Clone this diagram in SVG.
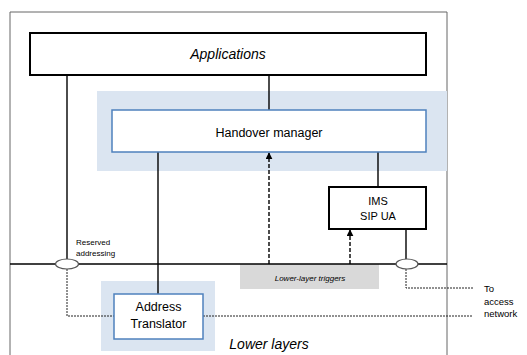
<svg xmlns="http://www.w3.org/2000/svg" width="527" height="355" viewBox="0 0 527 355">
<defs>
<style>
.t{font-family:"Liberation Sans",Arial,sans-serif;fill:#000}
.it{font-style:italic}
.solid{stroke:#000;stroke-width:1.4;fill:none}
.dash{stroke:#000;stroke-width:1.4;stroke-dasharray:4,2;fill:none}
.dot{stroke:#222;stroke-width:1;stroke-dasharray:2,1;fill:none}
.blk{fill:#fff;stroke:#000;stroke-width:2}
.blu{fill:#fff;stroke:#4f81bd;stroke-width:1.5}
.bg{fill:#dbe5f1}
.ell{fill:#fff;stroke:#555;stroke-width:1.2}
</style>
<marker id="ah" viewBox="0 0 10 10" refX="9" refY="5" markerWidth="7" markerHeight="7" orient="auto" markerUnits="userSpaceOnUse">
<path d="M0,0 L10,5 L0,10 z" fill="#000"/>
</marker>
</defs>
<rect x="0" y="0" width="527" height="355" fill="#fff"/>
<path d="M10,360 V12 H447 V360" fill="none" stroke="#666" stroke-width="1"/>
<rect class="bg" x="97" y="91" width="350" height="80"/>
<rect class="bg" x="101" y="281" width="114" height="70"/>
<rect x="240" y="264" width="139" height="25" fill="#d9d9d9"/>
<g id="connectors">
<line class="solid" x1="10" y1="264" x2="447" y2="264"/>
<line class="solid" x1="269" y1="75" x2="269" y2="110"/>
<line class="solid" x1="67" y1="75" x2="67" y2="259"/>
<line class="solid" x1="158" y1="152" x2="158" y2="294" stroke-width="1.8"/>
<line class="solid" x1="378" y1="152" x2="378" y2="187"/>
<line class="solid" x1="406" y1="229" x2="406" y2="259" stroke-width="1.8"/>
<line class="dash" x1="269" y1="264" x2="269" y2="153" marker-end="url(#ah)"/>
<line class="dash" x1="350" y1="264" x2="350" y2="230" marker-end="url(#ah)"/>
<path class="dot" d="M67,269 V316 H114"/>
<path class="dot" d="M203,316 H473"/>
<path class="dot" d="M406,269 V288 H473"/>
</g>
<g id="applications">
<rect class="blk" x="30" y="33" width="396" height="42"/>
<text class="t it" x="228" y="59" font-size="14" text-anchor="middle">Applications</text>
</g>
<g id="handover">
<rect class="blu" x="112" y="110" width="314" height="42"/>
<text class="t" x="269" y="137" font-size="12.5" text-anchor="middle">Handover manager</text>
</g>
<g id="ims">
<rect class="blk" x="329" y="187" width="97" height="42"/>
<text class="t" x="378" y="205" font-size="11" text-anchor="middle">IMS</text>
<text class="t" x="378" y="220" font-size="11" text-anchor="middle">SIP UA</text>
</g>
<g id="translator">
<rect class="blu" x="114" y="294" width="89" height="45"/>
<text class="t" x="158.5" y="311" font-size="12.5" text-anchor="middle">Address</text>
<text class="t" x="158.5" y="328" font-size="12.5" text-anchor="middle">Translator</text>
</g>
<g id="triggers">
<text class="t it" x="310" y="281" font-size="8" text-anchor="middle">Lower-layer triggers</text>
</g>
<g id="ports">
<ellipse class="ell" cx="67" cy="264" rx="11.5" ry="5"/>
<ellipse class="ell" cx="407" cy="264" rx="11" ry="5"/>
</g>
<g id="labels">
<text class="t" x="76" y="245" font-size="8">Reserved</text>
<text class="t" x="76" y="256" font-size="8">addressing</text>
<text class="t" x="484" y="292" font-size="9.5">To</text>
<text class="t" x="484" y="305" font-size="9.5">access</text>
<text class="t" x="484" y="317" font-size="9.5">network</text>
<text class="t it" x="269" y="349" font-size="14" text-anchor="middle">Lower layers</text>
</g>
</svg>
